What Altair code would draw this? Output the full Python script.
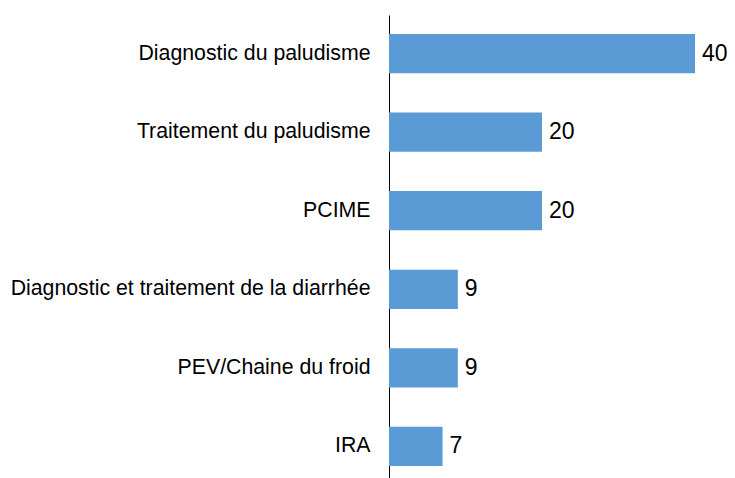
import altair as alt
import pandas as pd

categories = [
    "Diagnostic du paludisme",
    "Traitement du paludisme",
    "PCIME",
    "Diagnostic et traitement de la diarrhée",
    "PEV/Chaine du froid",
    "IRA",
]
values = [40, 20, 20, 9, 9, 7]

df = pd.DataFrame({"cat": categories, "val": values})

y_enc = alt.Y(
    "cat:N",
    sort=categories,
    title=None,
    scale=alt.Scale(paddingInner=0.5, paddingOuter=0.242),
    axis=alt.Axis(
        ticks=False,
        labelPadding=19,
        labelFontSize=21.3,
        labelColor="#000000",
        labelFont="Liberation Sans",
        labelLimit=500,
        domainColor="#000000",
        domainWidth=1,
        grid=False,
    ),
)
x_enc = alt.X("val:Q", title=None, axis=None, scale=alt.Scale(domain=[0, 40], nice=False))

bars = alt.Chart(df).mark_bar(color="#5B9BD5").encode(x=x_enc, y=y_enc)
labels = alt.Chart(df).mark_text(
    align="left", baseline="middle", dx=7, fontSize=23, font="Liberation Sans", color="#000000"
).encode(x=x_enc, y=y_enc, text="val:Q")

chart = (
    alt.layer(bars, labels)
    .properties(
        width=306,
        height=470,
        background="white",
        autosize=alt.AutoSizeParams(type="none"),
        padding={"left": 381, "top": 7, "right": 32, "bottom": 0},
    )
    .configure_view(strokeWidth=0, stroke="transparent")
)

chart.save("out.html", embed_options={"renderer": "svg", "actions": False})
